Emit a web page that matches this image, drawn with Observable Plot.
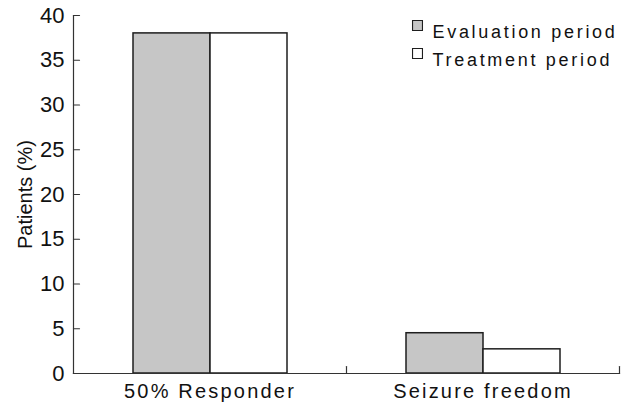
<!DOCTYPE html>
<html><head><meta charset="utf-8">
<script src="https://cdn.jsdelivr.net/npm/d3@7"></script>
<script src="https://cdn.jsdelivr.net/npm/@observablehq/plot@0.6"></script>
<style>
body{margin:0;background:#fff;}
#chart svg{font-family:"Liberation Sans",Arial,sans-serif;}
g[aria-label="fx-axis tick label"] text{letter-spacing:2.2px;}
g[aria-label="text"] text{letter-spacing:2.7px;}
</style></head><body><div id="chart"></div>
<script>
const categories = ["50% Responder", "Seizure freedom"];
const periods = ["Evaluation period", "Treatment period"];
const evaluationValues = [38.0, 4.5];
const treatmentValues = [38.0, 2.7];
const yTicks = [0, 5, 10, 15, 20, 25, 30, 35, 40];
const yLabel = "Patients (%)";

const data = categories.flatMap((c, i) => [
  {category: c, period: periods[0], value: evaluationValues[i]},
  {category: c, period: periods[1], value: treatmentValues[i]}
]);

const ink = "#1e1e1e";
const tickShape = {draw(context, l) { context.moveTo(0, 0); context.lineTo(0, -l); }};

const legendMarks = periods.flatMap((p, i) => [
  Plot.dot([p], {fx: () => categories[1], frameAnchor: "top-right", dx: -202, dy: 10 + 28 * i,
    symbol: "square", r: 5.6, fill: d => d, stroke: ink, strokeWidth: 1.1}),
  Plot.text([p], {fx: () => categories[1], frameAnchor: "top-right", dx: -187, dy: 10 + 28 * i,
    text: d => d, textAnchor: "start", fontSize: 18, fill: "#111"})
]);

const chart = Plot.plot({
  width: 632,
  height: 402,
  marginLeft: 72,
  marginRight: 13,
  marginTop: 15,
  marginBottom: 29,
  fx: {domain: categories, padding: 0, label: null},
  x: {domain: periods, axis: null, paddingInner: 0, paddingOuter: 0.765},
  y: {domain: [0, 40], axis: null},
  color: {domain: periods, range: ["#c6c6c6", "#ffffff"]},
  marks: [
    Plot.barY(data, {fx: "category", x: "period", y: "value", fill: "period", stroke: ink, strokeWidth: 1.5}),
    Plot.frame({anchor: "left", facet: "super", stroke: "#333", strokeWidth: 1.2}),
    Plot.frame({anchor: "bottom", facet: "super", stroke: "#333", strokeWidth: 1.2}),
    Plot.vector([0], {frameAnchor: "bottom-right", length: 7, rotate: 0, anchor: "start", shape: tickShape, stroke: "#333", strokeWidth: 1.2}),
    Plot.vector(yTicks, {fx: () => categories[0], y: d => d, frameAnchor: "left", length: 6, rotate: 90, anchor: "start", shape: tickShape, stroke: "#333", strokeWidth: 1.2}),
    Plot.axisY({ticks: yTicks, tickSize: 0, tickPadding: 9, fontSize: 22, fill: "#111", label: null}),
    Plot.axisY({ticks: [], label: yLabel, labelAnchor: "center", labelArrow: "none", labelOffset: 56, fontSize: 20, fill: "#111"}),
    Plot.axisFx({anchor: "bottom", tickSize: 0, tickPadding: 10, fontSize: 20, fill: "#111", label: null}),
    ...legendMarks
  ]
});
document.getElementById("chart").appendChild(chart);
</script></body></html>
